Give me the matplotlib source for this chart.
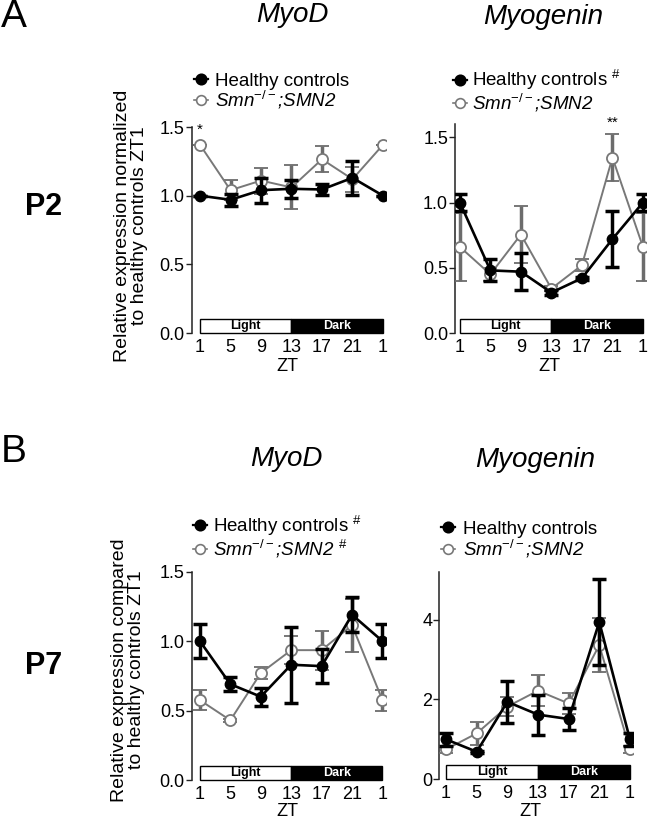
import numpy as np
import matplotlib
matplotlib.use("Agg")
import matplotlib.pyplot as plt
from matplotlib.patches import Rectangle
from matplotlib.lines import Line2D

plt.rcParams['font.family'] = ['Liberation Sans', 'DejaVu Sans']
plt.rcParams['mathtext.fontset'] = 'custom'
plt.rcParams['mathtext.rm'] = 'Liberation Sans'
plt.rcParams['mathtext.it'] = 'Liberation Sans:italic'
plt.rcParams['mathtext.bf'] = 'Liberation Sans:bold'

# ---------------- data ----------------
zt_labels = ["1", "5", "9", "13", "17", "21", "1"]

# A / P2 / MyoD
p2_myod_hc = [1.00, 0.97, 1.04, 1.05, 1.045, 1.13, 1.00]
p2_myod_hc_err = [0.0, 0.045, 0.09, 0.065, 0.04, 0.125, 0.0]
p2_myod_smn = [1.37, 1.04, 1.11, 1.06, 1.265, 1.12, 1.37]
p2_myod_smn_err = [0.0, 0.075, 0.095, 0.16, 0.095, 0.09, 0.0]

# A / P2 / Myogenin
p2_myog_hc = [1.00, 0.48, 0.47, 0.31, 0.42, 0.72, 1.00]
p2_myog_hc_err = [0.063, 0.085, 0.14, 0.02, 0.01, 0.213, 0.063]
p2_myog_smn = [0.66, 0.45, 0.755, 0.34, 0.52, 1.345, 0.66]
p2_myog_smn_err = [0.26, 0.05, 0.22, 0.02, 0.045, 0.18, 0.26]

# B / P7 / MyoD
p7_myod_hc = [1.00, 0.69, 0.60, 0.83, 0.82, 1.19, 1.00]
p7_myod_hc_err = [0.12, 0.05, 0.065, 0.275, 0.12, 0.127, 0.12]
p7_myod_smn = [0.575, 0.43, 0.77, 0.935, 0.935, 1.115, 0.575]
p7_myod_smn_err = [0.07, 0.01, 0.042, 0.10, 0.14, 0.19, 0.075]

# B / P7 / Myogenin
p7_myog_hc = [1.00, 0.69, 1.94, 1.62, 1.51, 3.94, 1.00]
p7_myog_hc_err = [0.17, 0.03, 0.52, 0.50, 0.27, 1.07, 0.17]
p7_myog_smn = [0.75, 1.15, 1.82, 2.22, 1.90, 3.36, 0.75]
p7_myog_smn_err = [0.08, 0.29, 0.23, 0.39, 0.27, 0.67, 0.08]

W, H = 650, 821
fig = plt.figure(figsize=(W / 100, H / 100), dpi=100)

GREY = '#787878'
GREY_ERR = '#6c6c6c'


def fx(px):
    return px / W


def fy(py):
    return 1 - py / H


def panel(left, right, y0, ytop, xlo, ymax, yticks, yticklabels, hc, hce, smn, smne):
    ax = fig.add_axes([fx(left), fy(y0), (right - left) / W, (y0 - ytop) / H])
    x = np.arange(len(zt_labels))
    ax.errorbar(x, smn, yerr=smne, color=GREY, lw=1.4, ecolor=GREY_ERR,
                elinewidth=2.5, capsize=5.2, capthick=2.5, marker='o',
                mfc='white', mec=GREY, ms=8, mew=1.3, zorder=3)
    ax.errorbar(x, hc, yerr=hce, color='black', lw=1.9, ecolor='black',
                elinewidth=2.5, capsize=5.2, capthick=2.5, marker='o',
                mfc='black', mec='black', ms=7.5, zorder=4)
    bh = 0.068 * ymax
    n = len(zt_labels) - 1
    ax.add_patch(Rectangle((0, 0), n / 2, bh, fc='white', ec='black', lw=1.0, zorder=2, clip_on=False))
    ax.add_patch(Rectangle((n / 2, 0), n / 2, bh, fc='black', ec='black', lw=1.0, zorder=2, clip_on=False))
    ax.text(n / 4, bh / 2, 'Light', ha='center', va='center', fontsize=9,
            fontweight='bold', color='black', zorder=5)
    ax.text(3 * n / 4, bh / 2, 'Dark', ha='center', va='center', fontsize=9,
            fontweight='bold', color='white', zorder=5)
    ax.set_xlim(xlo, n + 0.1)
    ax.set_ylim(0, ymax)
    ax.set_xticks(x)
    ax.set_xticklabels(zt_labels)
    ax.set_yticks(yticks)
    ax.set_yticklabels(yticklabels)
    for s in ['top', 'right', 'bottom']:
        ax.spines[s].set_visible(False)
    ax.spines['left'].set_linewidth(1.1)
    ax.spines['left'].set_color('#222222')
    ax.tick_params(axis='x', length=0, pad=4, labelsize=13)
    ax.tick_params(axis='y', length=4, width=1.0, pad=1, labelsize=13, color='#222222')
    ax.patch.set_alpha(0)
    return ax


def legend(mx, y1, y2, tx, lab1, lab2):
    for yy, filled in [(y1, True), (y2, False)]:
        col = 'black' if filled else GREY
        fig.add_artist(Line2D([fx(mx - 7), fx(mx + 7)], [fy(yy), fy(yy)],
                              color=col, lw=1.6 if filled else 1.2))
        fig.add_artist(Line2D([fx(mx)], [fy(yy)], marker='o', ms=7.5 if filled else 7,
                              mfc='black' if filled else 'white', mec=col,
                              mew=1.2, lw=0))
    fig.text(fx(tx), fy(y1 + 6.5), lab1, fontsize=13.5, ha='left', va='baseline')
    fig.text(fx(tx), fy(y2 + 6.5), lab2, fontsize=13.5, ha='left', va='baseline',
             style='italic')


smn_lab = r'Smn$^{-/-}$;SMN2'
smn_lab_h = r'Smn$^{-/-}$;SMN2 $^{\#}$'
hc_lab = 'Healthy controls'
hc_lab_h = r'Healthy controls $^{\#}$'

# Panel A MyoD
ax1 = panel(191.5, 386, 333, 127, -0.28, 1.5, [0, 0.5, 1.0, 1.5],
            ['0.0', '0.5', '1.0', '1.5'],
            p2_myod_hc, p2_myod_hc_err, p2_myod_smn, p2_myod_smn_err)
ax1.text(0, 1.43, '*', ha='center', va='bottom', fontsize=11, clip_on=False)

# Panel A Myogenin
ax2 = panel(455, 646, 333, 124.3, -0.16, 1.6, [0, 0.5, 1.0, 1.5],
            ['0.0', '0.5', '1.0', '1.5'],
            p2_myog_hc, p2_myog_hc_err, p2_myog_smn, p2_myog_smn_err)
ax2.text(5, 1.555, '**', ha='center', va='bottom', fontsize=11, clip_on=False)

# Panel B MyoD
ax3 = panel(191.7, 385.5, 780, 571.7, -0.27, 1.5, [0, 0.5, 1.0, 1.5],
            ['0.0', '0.5', '1.0', '1.5'],
            p7_myod_hc, p7_myod_hc_err, p7_myod_smn, p7_myod_smn_err)

# Panel B Myogenin
ax4 = panel(439.3, 633, 779.3, 571.7, -0.22, 5.2, [0, 2, 4], ['0', '2', '4'],
            p7_myog_hc, p7_myog_hc_err, p7_myog_smn, p7_myog_smn_err)

# legends
legend(201, 79, 100, 215, hc_lab, smn_lab)
legend(460, 80, 103, 472, hc_lab_h, smn_lab)
legend(200, 525, 549, 213, hc_lab_h, smn_lab_h)
legend(448, 527, 549, 463, hc_lab, smn_lab)

# ZT labels
for (xx, yy) in [(287, 366), (549, 366), (287, 811), (530, 811)]:
    fig.text(fx(xx), fy(yy), 'ZT', fontsize=13, ha='center', va='center')

# y labels
fig.text(fx(131), fy(226), 'Relative expression normalized\nto healthy controls ZT1',
         rotation=90, ha='center', va='center', fontsize=14, multialignment='center',
         linespacing=1.0)
fig.text(fx(128), fy(670), 'Relative expression compared\nto healthy controls ZT1',
         rotation=90, ha='center', va='center', fontsize=14, multialignment='center',
         linespacing=1.0)

# row labels
fig.text(fx(44), fy(207), 'P2', fontsize=22, fontweight='bold', ha='center', va='center')
fig.text(fx(44), fy(666), 'P7', fontsize=22, fontweight='bold', ha='center', va='center')

# panel letters
fig.text(fx(1), fy(17), 'A', fontsize=28, ha='left', va='center')
fig.text(fx(1), fy(452), 'B', fontsize=28, ha='left', va='center')

# gene titles
fig.text(fx(292), fy(15), 'MyoD', fontsize=20, style='italic', ha='center', va='center')
fig.text(fx(543), fy(17), 'Myogenin', fontsize=20, style='italic', ha='center', va='center')
fig.text(fx(286), fy(459), 'MyoD', fontsize=20, style='italic', ha='center', va='center')
fig.text(fx(535), fy(460), 'Myogenin', fontsize=20, style='italic', ha='center', va='center')

fig.savefig('out.png', dpi=100)
